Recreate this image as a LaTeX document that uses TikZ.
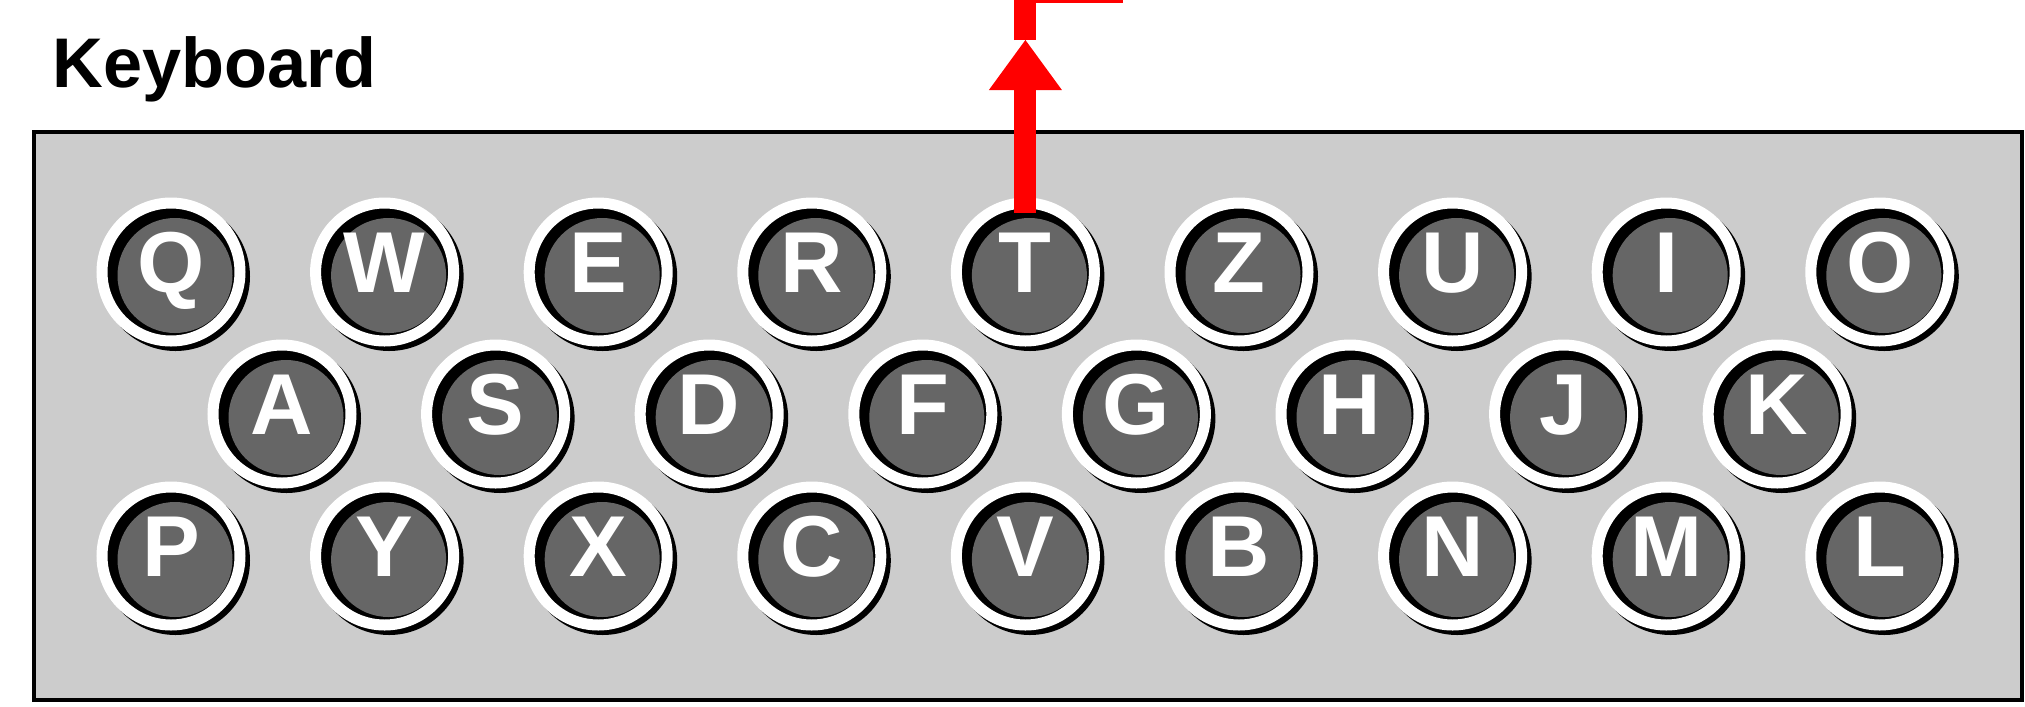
\documentclass[tikz,border=0pt]{standalone}
\usepackage{fontspec}
\setmainfont{Liberation Sans}
\usetikzlibrary{arrows.meta}
\definecolor{boardgray}{RGB}{204,204,204}
\definecolor{capgray}{RGB}{102,102,102}
\begin{document}
\begin{tikzpicture}[x=1cm,y=1cm,
	key/.style={circle,minimum size=1.38cm,inner sep=0pt,outer sep=0pt,
		fill=black,draw=white,line width=1.1mm,
		preaction={draw=black,line width=1.1mm,transform canvas={shift={(0.045,-0.045)}}},
		path picture={\fill[capgray] ([shift={(0.04,-0.035)}]path picture bounding box.center) circle (0.575);},
		text=white,font=\fontsize{24.6}{28}\selectfont\bfseries,text height=6.2mm,text depth=2.1mm},
	signal/.style={red,line width=2.2mm}]
	\def\dx{2.136}
	\useasboundingbox (0,0) rectangle (20.25,7.06);
	\clip (0,0) rectangle (20.25,7.06);
	\node[anchor=base west,inner sep=0pt,font=\fontsize{20}{24}\selectfont\bfseries] (title) at (0.52,6.19) {Keyboard};
	\draw[line width=1.1pt,fill=boardgray] (0.34,0.06) rectangle (20.22,5.74);
	% three rows of keys
	\foreach \k [count=\i from 0] in {Q,W,E,R,T,Z,U,I,O}
		\node[key] (\k) at (1.71+\dx*\i,4.34) {\k};
	\foreach \k [count=\i from 0] in {A,S,D,F,G,H,J,K}
		\node[key] (\k) at (2.82+\dx*\i,2.92) {\k};
	\foreach \k [count=\i from 0] in {P,Y,X,C,V,B,N,M,L}
		\node[key] (\k) at (1.71+\dx*\i,1.50) {\k};
	% signal out of T
	\path (T.center) ++(0,2.32) coordinate (tip);
	\path (tip) ++(0.98,0.48) coordinate (out);
	\draw[signal,-{Triangle[length=5mm,width=7.3mm,line width=0pt]},shorten <=5.9mm] (T.center) -- (tip);
	\draw[signal] (tip) |- (out);
\end{tikzpicture}
\end{document}
